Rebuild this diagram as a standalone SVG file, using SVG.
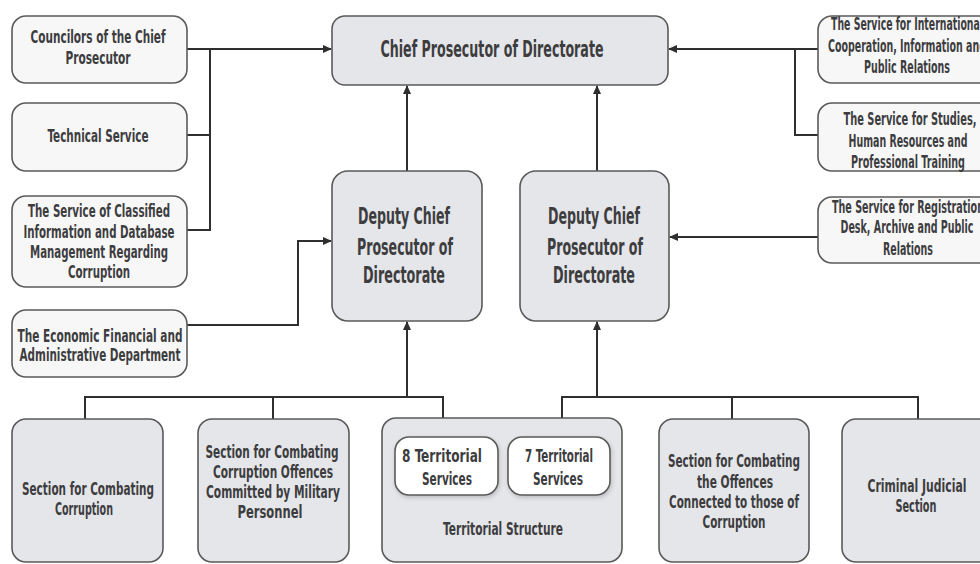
<svg xmlns="http://www.w3.org/2000/svg" width="980" height="564" viewBox="0 0 980 564">
  <defs>
    <style>
      text { font-family: "Liberation Sans Narrow", "DejaVu Sans Condensed", "Liberation Sans", sans-serif; font-weight: bold; fill: #3d3d3f; text-anchor: middle; }
      .s { font-size: 18px; }
      .l { font-size: 23px; }
      .light { fill: #f7f7f7; stroke: #5a5a5a; stroke-width: 1.6; }
      .grey { fill: #e5e6e9; stroke: #5a5a5a; stroke-width: 1.6; }
      .white { fill: #ffffff; stroke: #5a5a5a; stroke-width: 1.6; }
      .wire { fill: none; stroke: #2f2f2f; stroke-width: 2; }
    </style>
    <marker id="arrow" markerWidth="9" markerHeight="8" refX="8" refY="4" orient="auto" markerUnits="userSpaceOnUse">
      <path d="M0,0 L9,4 L0,8 Z" fill="#2f2f2f"/>
    </marker>
    <filter id="shadow" x="-10%" y="-10%" width="130%" height="140%">
      <feDropShadow dx="1" dy="2" stdDeviation="2" flood-color="#000" flood-opacity="0.18"/>
    </filter>
  </defs>

  <rect width="980" height="564" fill="#ffffff"/>

  <!-- connectors -->
  <g id="connectors">
    <path class="wire" d="M187,49 H331" marker-end="url(#arrow)"/>
    <path class="wire" d="M210,49 V230 H187"/>
    <path class="wire" d="M187,135 H210"/>
    <path class="wire" d="M187,325 H298 V241 H331" marker-end="url(#arrow)"/>
    <path class="wire" d="M818,49 H669" marker-end="url(#arrow)"/>
    <path class="wire" d="M795,49 V135 H818"/>
    <path class="wire" d="M818,237 H670" marker-end="url(#arrow)"/>
    <path class="wire" d="M407,171 V86" marker-end="url(#arrow)"/>
    <path class="wire" d="M597,171 V86" marker-end="url(#arrow)"/>
    <path class="wire" d="M85,419 V397 H443 V419"/>
    <path class="wire" d="M273,397 V419"/>
    <path class="wire" d="M407,397 V322" marker-end="url(#arrow)"/>
    <path class="wire" d="M562,419 V397 H918 V419"/>
    <path class="wire" d="M732,397 V419"/>
    <path class="wire" d="M597,397 V322" marker-end="url(#arrow)"/>
  </g>

  <!-- top -->
  <g id="chief">
    <rect class="grey" x="332" y="16" width="336" height="69" rx="13"/>
    <text class="l" x="492" y="57" textLength="223" lengthAdjust="spacingAndGlyphs">Chief Prosecutor of Directorate</text>
  </g>

  <!-- left column -->
  <g id="councilors">
    <rect class="light" x="12" y="16" width="175" height="67" rx="14"/>
    <text class="s" x="98" y="43" textLength="135" lengthAdjust="spacingAndGlyphs">Councilors of the Chief</text>
    <text class="s" x="98" y="64" textLength="65" lengthAdjust="spacingAndGlyphs">Prosecutor</text>
  </g>
  <g id="technical">
    <rect class="light" x="12" y="103" width="175" height="68" rx="14"/>
    <text class="s" x="98" y="142" textLength="101" lengthAdjust="spacingAndGlyphs">Technical Service</text>
  </g>
  <g id="classified">
    <rect class="light" x="12" y="196" width="175" height="91" rx="14"/>
    <text class="s" x="99" y="217" textLength="142" lengthAdjust="spacingAndGlyphs">The Service of Classified</text>
    <text class="s" x="99" y="238" textLength="151" lengthAdjust="spacingAndGlyphs">Information and Database</text>
    <text class="s" x="99" y="258" textLength="138" lengthAdjust="spacingAndGlyphs">Management Regarding</text>
    <text class="s" x="99" y="278" textLength="62" lengthAdjust="spacingAndGlyphs">Corruption</text>
  </g>
  <g id="economic">
    <rect class="light" x="12" y="310" width="175" height="67" rx="14"/>
    <text class="s" x="100" y="342" textLength="165" lengthAdjust="spacingAndGlyphs">The Economic Financial and</text>
    <text class="s" x="100" y="361" textLength="161" lengthAdjust="spacingAndGlyphs">Administrative Department</text>
  </g>

  <!-- right column (boxes run past the right edge) -->
  <g id="international">
    <rect class="light" x="818" y="16" width="180" height="67" rx="14"/>
    <text class="s" x="907" y="30" textLength="152" lengthAdjust="spacingAndGlyphs">The Service for International</text>
    <text class="s" x="907" y="52" textLength="158" lengthAdjust="spacingAndGlyphs">Cooperation, Information and</text>
    <text class="s" x="907" y="73" textLength="86" lengthAdjust="spacingAndGlyphs">Public Relations</text>
  </g>
  <g id="studies">
    <rect class="light" x="818" y="103" width="180" height="68" rx="14"/>
    <text class="s" x="910" y="125" textLength="133" lengthAdjust="spacingAndGlyphs">The Service for Studies,</text>
    <text class="s" x="908" y="147" textLength="119" lengthAdjust="spacingAndGlyphs">Human Resources and</text>
    <text class="s" x="908" y="168" textLength="114" lengthAdjust="spacingAndGlyphs">Professional Training</text>
  </g>
  <g id="registration">
    <rect class="light" x="818" y="197" width="180" height="66" rx="14"/>
    <text class="s" x="908" y="213" textLength="152" lengthAdjust="spacingAndGlyphs">The Service for Registration</text>
    <text class="s" x="907" y="233" textLength="133" lengthAdjust="spacingAndGlyphs">Desk, Archive and Public</text>
    <text class="s" x="908" y="255" textLength="50" lengthAdjust="spacingAndGlyphs">Relations</text>
  </g>

  <!-- deputies -->
  <g id="deputy-left">
    <rect class="grey" x="332" y="171" width="150" height="150" rx="16"/>
    <text class="l" x="404" y="224" textLength="92" lengthAdjust="spacingAndGlyphs">Deputy Chief</text>
    <text class="l" x="405" y="255" textLength="96" lengthAdjust="spacingAndGlyphs">Prosecutor of</text>
    <text class="l" x="404" y="283" textLength="82" lengthAdjust="spacingAndGlyphs">Directorate</text>
  </g>
  <g id="deputy-right">
    <rect class="grey" x="520" y="171" width="149" height="150" rx="16"/>
    <text class="l" x="594" y="224" textLength="92" lengthAdjust="spacingAndGlyphs">Deputy Chief</text>
    <text class="l" x="595" y="255" textLength="96" lengthAdjust="spacingAndGlyphs">Prosecutor of</text>
    <text class="l" x="594" y="283" textLength="82" lengthAdjust="spacingAndGlyphs">Directorate</text>
  </g>

  <!-- bottom row -->
  <g id="combating">
    <rect class="grey" x="12" y="419" width="151" height="143" rx="14"/>
    <text class="s" x="88" y="495" textLength="132" lengthAdjust="spacingAndGlyphs">Section for Combating</text>
    <text class="s" x="84" y="515" textLength="58" lengthAdjust="spacingAndGlyphs">Corruption</text>
  </g>
  <g id="military">
    <rect class="grey" x="198" y="419" width="151" height="143" rx="14"/>
    <text class="s" x="272" y="458" textLength="133" lengthAdjust="spacingAndGlyphs">Section for Combating</text>
    <text class="s" x="273" y="478" textLength="120" lengthAdjust="spacingAndGlyphs">Corruption Offences</text>
    <text class="s" x="273" y="498" textLength="134" lengthAdjust="spacingAndGlyphs">Committed by Military</text>
    <text class="s" x="270" y="518" textLength="65" lengthAdjust="spacingAndGlyphs">Personnel</text>
  </g>
  <g id="territorial">
    <rect class="grey" x="382" y="418" width="240" height="144" rx="14"/>
    <g id="territorial-8">
      <rect class="white" x="395" y="437" width="103" height="58" rx="14" filter="url(#shadow)"/>
      <text class="s" x="442" y="462" textLength="80" lengthAdjust="spacingAndGlyphs">8 Territorial</text>
      <text class="s" x="447" y="485" textLength="50" lengthAdjust="spacingAndGlyphs">Services</text>
    </g>
    <g id="territorial-7">
      <rect class="white" x="508" y="437" width="102" height="58" rx="14" filter="url(#shadow)"/>
      <text class="s" x="559" y="462" textLength="68" lengthAdjust="spacingAndGlyphs">7 Territorial</text>
      <text class="s" x="558" y="485" textLength="50" lengthAdjust="spacingAndGlyphs">Services</text>
    </g>
    <text class="s" x="503" y="535" textLength="120" lengthAdjust="spacingAndGlyphs">Territorial Structure</text>
  </g>
  <g id="connected">
    <rect class="grey" x="659" y="419" width="150" height="143" rx="14"/>
    <text class="s" x="734" y="467" textLength="132" lengthAdjust="spacingAndGlyphs">Section for Combating</text>
    <text class="s" x="735" y="488" textLength="76" lengthAdjust="spacingAndGlyphs">the Offences</text>
    <text class="s" x="734" y="508" textLength="130" lengthAdjust="spacingAndGlyphs">Connected to those of</text>
    <text class="s" x="734" y="528" textLength="63" lengthAdjust="spacingAndGlyphs">Corruption</text>
  </g>
  <g id="criminal">
    <rect class="grey" x="842" y="419" width="152" height="143" rx="14"/>
    <text class="s" x="917" y="492" textLength="99" lengthAdjust="spacingAndGlyphs">Criminal Judicial</text>
    <text class="s" x="916" y="512" textLength="41" lengthAdjust="spacingAndGlyphs">Section</text>
  </g>
</svg>
